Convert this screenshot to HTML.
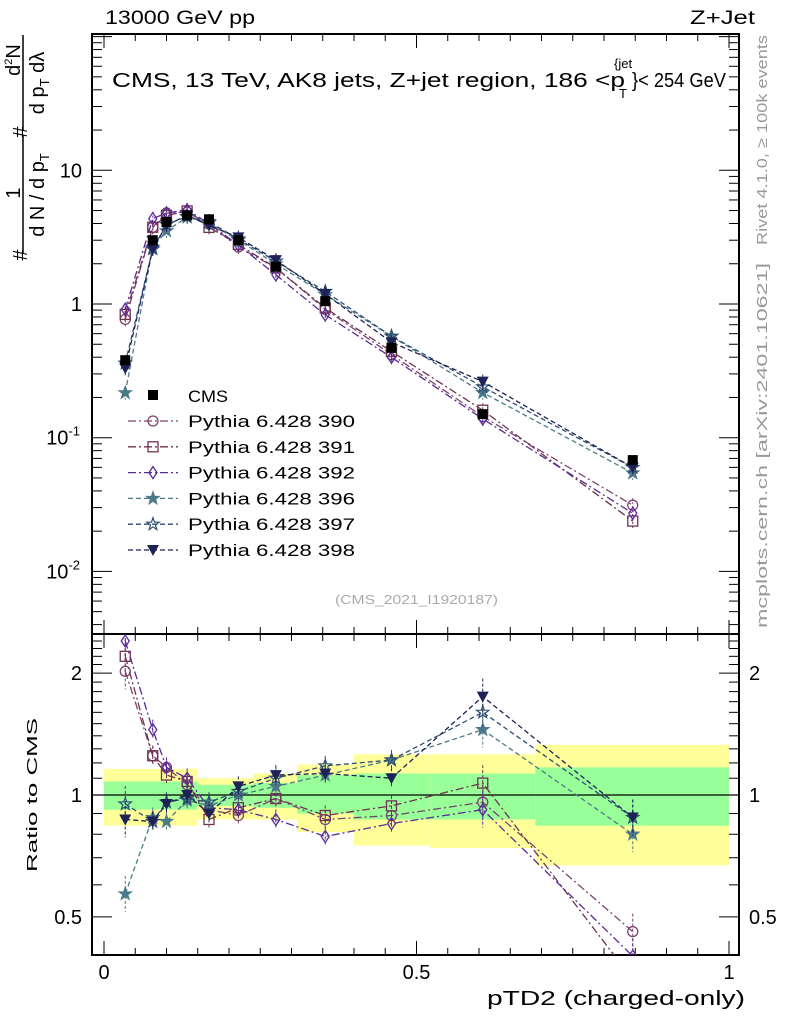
<!DOCTYPE html>
<html><head><meta charset="utf-8"><style>
body{margin:0;background:#fff;}
svg text{font-family:"Liberation Sans",sans-serif;}
</style></head><body>
<svg id="c" width="786" height="1024" xmlns="http://www.w3.org/2000/svg"></svg>
<script>
const xVals=[0.034,0.078,0.1,0.133,0.168,0.215,0.275,0.354,0.46,0.606,0.846];
const cmsVals=[0.38,3.0,4.1,4.6,4.3,3.0,1.9,1.05,0.47,0.15,0.068];
const r390=[2.02,1.25,1.17,1.06,0.92,0.89,0.98,0.87,0.89,0.96,0.46];
const r391=[2.2,1.25,1.12,1.08,0.87,0.93,0.98,0.89,0.94,1.07,0.35];
const r392=[2.4,1.45,1.17,1.1,0.93,0.92,0.87,0.79,0.85,0.92,0.4];
const r396=[0.57,0.88,0.86,0.97,0.94,1.0,1.05,1.12,1.22,1.45,0.8];
const r397=[0.95,0.86,0.96,0.98,0.96,1.02,1.1,1.18,1.22,1.6,0.88];
const r398=[0.87,0.86,0.95,1.0,0.9,1.05,1.12,1.13,1.1,1.75,0.88];
const binEdges=[0,0.149,0.239,0.309,0.4,0.522,0.69,1.0];
const yellowUp=[1.16,1.10,1.13,1.19,1.26,1.26,1.33];
const yellowDn=[0.84,0.87,0.87,0.81,0.75,0.74,0.67];
const greenUp=[1.08,1.06,1.07,1.12,1.13,1.13,1.17];
const greenDn=[0.92,0.94,0.93,0.90,0.87,0.87,0.84];
const xTicks=[0,0.5,1];
const seriesNames=["Pythia 6.428 390","Pythia 6.428 391","Pythia 6.428 392","Pythia 6.428 396","Pythia 6.428 397","Pythia 6.428 398"];

const NS="http://www.w3.org/2000/svg";
const svg=document.getElementById('c');
function el(t,a,p){const e=document.createElementNS(NS,t);for(const k in a)e.setAttribute(k,a[k]);(p||svg).appendChild(e);return e;}
const L=92,R=739,T=34,M=634,B=955;
const X=v=>104+v*625;
const Ym=v=>304-Math.log10(v)*133.7;
const Yr=v=>795-Math.log10(v)*405;

const gb=el('g',{});


for(let i=0;i<binEdges.length-1;i++){
  const y=el('rect',{x:X(binEdges[i]),y:Yr(yellowUp[i]),width:X(binEdges[i+1])-X(binEdges[i]),height:Yr(yellowDn[i])-Yr(yellowUp[i]),fill:'#ffff99'},gb);
  
  
  const g=el('rect',{x:X(binEdges[i]),y:Yr(greenUp[i]),width:X(binEdges[i+1])-X(binEdges[i]),height:Yr(greenDn[i])-Yr(greenUp[i]),fill:'#99ff99'},gb);
  
  
}
el('line',{x1:L,x2:R,y1:Yr(1),y2:Yr(1),stroke:'#000','stroke-width':1.2});

for(const [t,b] of [[T,M],[M,B]]){
  const f=el('rect',{x:L,y:t,width:R-L,height:b-t,fill:'none',stroke:'#000','stroke-width':2});
  
  
}
for(let v=0;v<=1.0001;v+=0.05){
  const big=Math.abs(v*10-Math.round(v*10))<1e-6 && Math.round(v*10)%5===0;
  const len=big?14:7;
  for(const [y0,d] of [[B,-1],[M,1],[M,-1],[T,1]]){
    el('line',{x1:X(v),x2:X(v),y1:y0,y2:y0+d*len,stroke:'#000','stroke-width':1});
  }
}
xTicks.forEach(v=>{const t=el('text',{x:X(v),y:979,'font-size':20,'text-anchor':'middle'});t.textContent=String(v);
});
for(let d=-3;d<=2;d++){for(let m=1;m<10;m++){const v=m*Math.pow(10,d);const y=Ym(v);if(y<T||y>M)continue;
 const len=m===1?20:10;
 el('line',{x1:L,x2:L+len,y1:y,y2:y,stroke:'#000'});el('line',{x1:R,x2:R-len,y1:y,y2:y,stroke:'#000'});}}
[["10",10],["1",1]].forEach(([s,v])=>{const t=el('text',{x:82,y:Ym(v)+7,'font-size':20,'text-anchor':'end'});t.textContent=s;
});
[[-1,0.1],[-2,0.01]].forEach(([e,v])=>{const t=el('text',{x:80,y:Ym(v)+7,'font-size':20,'text-anchor':'end'});
t.innerHTML='10<tspan dy="-9" font-size="13">'+e+'</tspan>';
});
for(let v=0.4;v<=2.5;v+=0.1){const y=Yr(v);if(y<M||y>B)continue;
 const big=[0.5,1,2].some(w=>Math.abs(w-v)<1e-6);const len=big?20:10;
 el('line',{x1:L,x2:L+len,y1:y,y2:y,stroke:'#000'});el('line',{x1:R,x2:R-len,y1:y,y2:y,stroke:'#000'});}
[["2",2],["1",1],["0.5",0.5]].forEach(([s,v])=>{
 const t=el('text',{x:82,y:Yr(v)+7,'font-size':20,'text-anchor':'end'});t.textContent=s;
 
 const t2=el('text',{x:749,y:Yr(v)+7,'font-size':20});t2.textContent=s;
 });

function marker(kind,x,y,col,g){
  if(kind==='sq') return el('rect',{x:x-5,y:y-5,width:10,height:10,fill:'#000'},g);
  if(kind==='circ') return el('circle',{cx:x,cy:y,r:5,fill:'none',stroke:col,'stroke-width':1.3},g);
  if(kind==='osq') return el('rect',{x:x-5,y:y-5,width:10,height:10,fill:'none',stroke:col,'stroke-width':1.3},g);
  if(kind==='dia') return el('polygon',{points:`${x},${y-6} ${x+4},${y} ${x},${y+6} ${x-4},${y}`,fill:'none',stroke:col,'stroke-width':1.3},g);
  if(kind==='star'||kind==='ostar'){let p=[];for(let i=0;i<10;i++){const r=i%2?2.6:6.5,a=-Math.PI/2+i*Math.PI/5;p.push((x+r*Math.cos(a)).toFixed(1)+','+(y+r*Math.sin(a)).toFixed(1));}
    return el('polygon',{points:p.join(' '),fill:kind==='star'?col:'none',stroke:col,'stroke-width':1.2},g);}
  if(kind==='tri') return el('polygon',{points:`${x-6},${y-5} ${x+6},${y-5} ${x},${y+6}`,fill:col},g);
}
const series=[
 {r:r390,col:'#7a4470',m:'circ',dash:'8,3,2,3'},
 {r:r391,col:'#6e3350',m:'osq',dash:'8,3,2,3'},
 {r:r392,col:'#5a2a96',m:'dia',dash:'8,3,2,3'},
 {r:r396,col:'#4d7a88',m:'star',dash:'5,3'},
 {r:r397,col:'#2e4e72',m:'ostar',dash:'5,3'},
 {r:r398,col:'#1e2256',m:'tri',dash:'5,3'}];
const clipM=el('clipPath',{id:'cm'});el('rect',{x:L,y:T,width:R-L,height:M-T},clipM);
const clipR=el('clipPath',{id:'cr'});el('rect',{x:L,y:M,width:R-L,height:B-M},clipR);
series.forEach((s,k)=>{
  const g=el('g',{'clip-path':'url(#cm)'});
  
  
  const pm=xVals.map((x,i)=>X(x)+','+Ym(cmsVals[i]*s.r[i]));
  el('polyline',{points:pm.join(' '),fill:'none',stroke:s.col,'stroke-width':1.3,'stroke-dasharray':s.dash},g);
  xVals.forEach((x,i)=>{const y=Ym(cmsVals[i]*s.r[i]);el('line',{x1:X(x),x2:X(x),y1:y-7,y2:y+7,stroke:s.col,'stroke-dasharray':'2,2'},g);marker(s.m,X(x),y,s.col,g);});
  const g2=el('g',{'clip-path':'url(#cr)'});
  
  
  const pr=xVals.map((x,i)=>X(x)+','+Yr(s.r[i]));
  el('polyline',{points:pr.join(' '),fill:'none',stroke:s.col,'stroke-width':1.3,'stroke-dasharray':s.dash},g2);
  xVals.forEach((x,i)=>{const y=Yr(s.r[i]);const e=(i===0||i>=9)?18:10;el('line',{x1:X(x),x2:X(x),y1:y-e,y2:y+e,stroke:s.col,'stroke-dasharray':'3,2'},g2);marker(s.m,X(x),y,s.col,g2);});
});
const gc=el('g',{});


xVals.forEach((x,i)=>marker('sq',X(x),Ym(cmsVals[i]),'#000',gc));

function txt(x,y,s,size,attrs,name,parent){const e=el('text',Object.assign({x:x,y:y,'font-size':size},attrs||{}),parent);e.innerHTML=s;return e;}
const SG='spacingAndGlyphs';

const lg=el('g',{});


marker('sq',153,395,'#000',lg);
txt(188,402,'CMS',17,{textLength:40,lengthAdjust:SG},'legend-entry-cms',lg);
series.forEach((s,k)=>{const y=421+k*25.8;
 el('line',{x1:128,x2:178,y1:y,y2:y,stroke:s.col,'stroke-width':1.3,'stroke-dasharray':s.dash},lg);
 marker(s.m,153,y,s.col,lg);
 txt(188,y+6,seriesNames[k],17,{textLength:167,lengthAdjust:SG},'legend-entry',lg);});

txt(105,24,'13000 GeV pp',19,{textLength:150,lengthAdjust:SG},'energy-label');
txt(690,24,'Z+Jet',19,{textLength:65,lengthAdjust:SG},'process-label');
txt(112,87,'CMS, 13 TeV, AK8 jets, Z+jet region, 186 &lt;p',20,{textLength:513,lengthAdjust:SG},'plot-title');
txt(614,68,'{jet',13,{},'plot-title-sup');
txt(619,98,'T',13,{},'plot-title-sub');
txt(632,87,'}&lt; 254 GeV',20,{textLength:94,lengthAdjust:SG},'plot-title-end');
txt(335,604,'(CMS_2021_I1920187)',13,{fill:'#aaa',textLength:163,lengthAdjust:SG},'analysis-id');
txt(487,1005,'pTD2 (charged-only)',20,{textLength:258,lengthAdjust:SG},'x-axis-title');
txt(0,0,'Ratio to CMS',15,{transform:'translate(37,872) rotate(-90)',textLength:154,lengthAdjust:SG},'ratio-axis-title');
txt(0,0,'Rivet 4.1.0, ≥ 100k events',15,{transform:'translate(767,245) rotate(-90)',fill:'#999',textLength:210,lengthAdjust:SG},'rivet-label');
txt(0,0,'mcplots.cern.ch [arXiv:2401.10621]',15,{transform:'translate(767,628) rotate(-90)',fill:'#999',textLength:365,lengthAdjust:SG},'mcplots-label');

const yt=el('g',{transform:'rotate(-90)'});


txt(-255,27,'#',20,{'text-anchor':'middle'},'y-title-hash',yt);
el('line',{x1:-253,x2:-135,y1:23,y2:23,stroke:'#000','stroke-width':1.5},yt);
txt(-193,20,'1',20,{'text-anchor':'middle'},'y-title-1',yt);
txt(-195,44,'d N / d p<tspan font-size="13" dy="5">T</tspan>',20,{'text-anchor':'middle'},'y-title-denom',yt);
txt(-132,27,'#',20,{'text-anchor':'middle'},'y-title-hash2',yt);
el('line',{x1:-130,x2:-35,y1:23,y2:23,stroke:'#000','stroke-width':1.5},yt);
txt(-60,20,'d<tspan font-size="11" dy="-8">2</tspan><tspan dy="8">N</tspan>',20,{'text-anchor':'middle'},'y-title-d2n',yt);
txt(-83,44,'d p<tspan font-size="13" dy="5">T</tspan><tspan dy="-5"> d</tspan>λ',20,{'text-anchor':'middle'},'y-title-dpt',yt);
</script>
</body></html>
